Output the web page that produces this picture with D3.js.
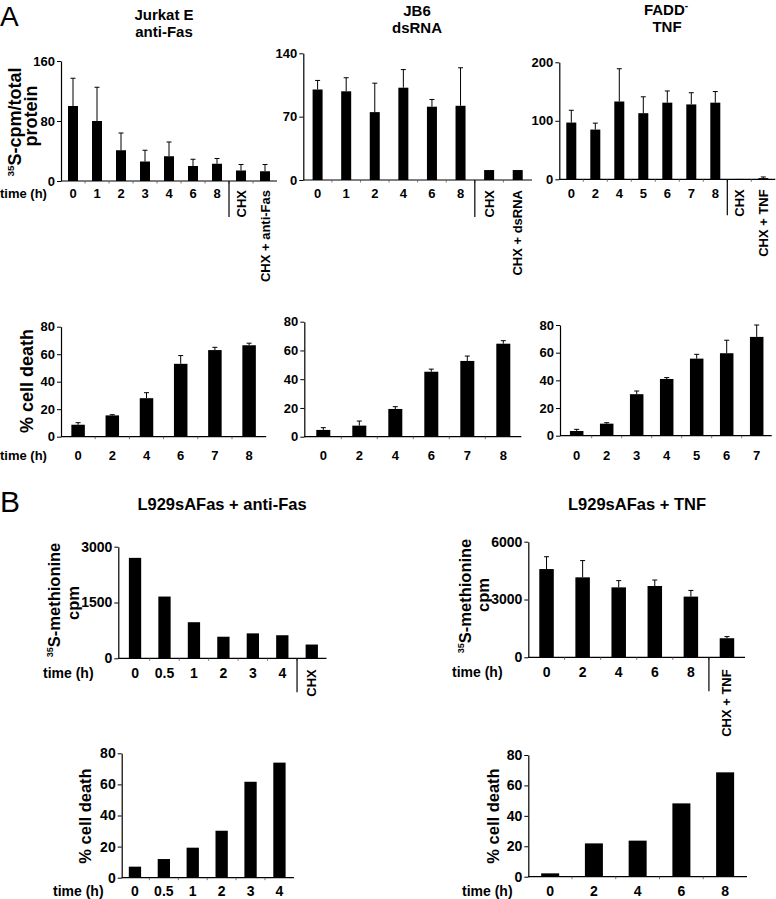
<!DOCTYPE html>
<html>
<head>
<meta charset="utf-8">
<script src="https://cdn.jsdelivr.net/npm/d3@7/dist/d3.min.js"></script>
<style>
  html, body { margin: 0; padding: 0; background: #fff; }
  svg { display: block; font-family: "Liberation Sans", Arial, sans-serif; font-weight: bold; }
</style>
</head>
<body>
<svg id="chart" width="776" height="899"></svg>
<script>
// ---------- DATA ----------
// Panel A, top row: 35S incorporation
const jurkatCats = ["0","1","2","3","4","6","8","CHX","CHX + anti-Fas"];
const jurkatSynth = [100, 80, 41, 26, 33, 20, 23, 14, 13];
const jurkatSynthErr = [37, 45, 23, 15, 19, 9, 7, 8, 9];

const jb6Cats = ["0","1","2","4","6","8","CHX","CHX + dsRNA"];
const jb6Synth = [100, 98, 75, 102, 81, 82, 11, 11];
const jb6SynthErr = [10, 15, 32, 20, 8, 42, 0, 0];

const faddCats = ["0","2","4","5","6","7","8","CHX","CHX + TNF"];
const faddSynth = [97, 85, 133, 113, 131, 128, 131, 0.6, 2];
const faddSynthErr = [21, 11, 56, 28, 20, 20, 19, 0, 2];

// Panel A, second row: % cell death
const jurkatDeathCats = ["0","2","4","6","7","8"];
const jurkatDeath = [8.7, 15.5, 28, 53, 63, 66.5];
const jurkatDeathErr = [1.5, 0.5, 4, 6, 2, 1.5];

const jb6DeathCats = ["0","2","4","6","7","8"];
const jb6Death = [4.7, 7.7, 19.3, 45.2, 52.7, 64.7];
const jb6DeathErr = [1.6, 3.2, 1.6, 1.8, 3.4, 2.1];

const faddDeathCats = ["0","2","3","4","5","6","7"];
const faddDeath = [3.4, 8.7, 30, 41, 55.7, 59.6, 71.4];
const faddDeathErr = [1.2, 0.7, 2.3, 1, 3.1, 9.4, 8.6];

// Panel B
const fasCpmCats = ["0","0.5","1","2","3","4","CHX"];
const fasCpm = [2700, 1660, 970, 580, 670, 620, 370];

const tnfCpmCats = ["0","2","4","6","8","CHX + TNF"];
const tnfCpm = [4580, 4150, 3630, 3700, 3150, 990];
const tnfCpmErr = [640, 870, 350, 310, 320, 85];

const fasDeathCats = ["0","0.5","1","2","3","4"];
const fasDeath = [7.1, 12, 19.3, 30.2, 61.7, 74];

const tnfDeathCats = ["0","2","4","6","8"];
const tnfDeath = [2.2, 21.9, 23.7, 48.2, 68.6];

// Tick values
const ticksJurkat = [0, 80, 160];
const ticksJb6 = [0, 70, 140];
const ticksFadd = [0, 100, 200];
const ticksDeath = [0, 20, 40, 60, 80];
const ticksFasCpm = [0, 1500, 3000];
const ticksTnfCpm = [0, 3000, 6000];

// ---------- LAYOUT ----------
const svg = d3.select("#chart");

const panels = [
  {cats: jurkatCats, vals: jurkatSynth, errs: jurkatSynthErr, ticks: ticksJurkat, max: 160,
   axisX: 61, x0: 61, x1: 277, y0: 181, yTop: 61, barW: 10, fs: 13, labelY: 198, time: 0, rotTop: 9, sepLen: 36},
  {cats: jb6Cats, vals: jb6Synth, errs: jb6SynthErr, ticks: ticksJb6, max: 140,
   axisX: 303.3, x0: 303.3, x1: 532, y0: 180, yTop: 53.3, barW: 10, fs: 13, labelY: 198, rotTop: 10, sepLen: 37},
  {cats: faddCats, vals: faddSynth, errs: faddSynthErr, ticks: ticksFadd, max: 200,
   axisX: 559.3, x0: 559.3, x1: 775.3, y0: 179.3, yTop: 62.3, barW: 10, fs: 13, labelY: 198, rotTop: 10, sepLen: 36},
  {cats: jurkatDeathCats, vals: jurkatDeath, errs: jurkatDeathErr, ticks: ticksDeath, max: 80,
   axisX: 61, x0: 61, x1: 266.2, y0: 436.7, yTop: 326.7, barW: 13.5, fs: 13, labelY: 460, time: 0},
  {cats: jb6DeathCats, vals: jb6Death, errs: jb6DeathErr, ticks: ticksDeath, max: 80,
   axisX: 304.3, x0: 305.3, x1: 521.3, y0: 436.7, yTop: 321.7, barW: 14, fs: 13, labelY: 460},
  {cats: faddDeathCats, vals: faddDeath, errs: faddDeathErr, ticks: ticksDeath, max: 80,
   axisX: 560, x0: 561.7, x1: 771.7, y0: 435.7, yTop: 325, barW: 13.5, fs: 13, labelY: 460},
  {cats: fasCpmCats, vals: fasCpm, ticks: ticksFasCpm, max: 3000,
   axisX: 118.3, x0: 120.3, x1: 326.5, y0: 658.3, yTop: 546.7, barW: 12.3, fs: 14, labelY: 678, time: 43, rotTop: 11, sepLen: 34},
  {cats: tnfCpmCats, vals: tnfCpm, errs: tnfCpmErr, ticks: ticksTnfCpm, max: 6000,
   axisX: 528.3, x0: 528.5, x1: 745, y0: 657.3, yTop: 541.7, barW: 14.5, fs: 14, labelY: 677, time: 452, rotTop: 12, sepLen: 34},
  {cats: fasDeathCats, vals: fasDeath, ticks: ticksDeath, max: 80,
   axisX: 121.7, x0: 120.5, x1: 293.9, y0: 877.7, yTop: 753.3, barW: 12.3, fs: 14, labelY: 896, time: 53},
  {cats: tnfDeathCats, vals: tnfDeath, ticks: ticksDeath, max: 80,
   axisX: 528.3, x0: 528.3, x1: 747, y0: 876.7, yTop: 755, barW: 18, fs: 14, labelY: 896, time: 462}
];

function isNum(c) { return !isNaN(+c); }

function drawPanel(p) {
  const g = svg.append("g");
  const n = p.cats.length;
  const step = (p.x1 - p.x0) / n;
  const pad = 1 - p.barW / step;
  const x = d3.scaleBand().domain(p.cats).range([p.x0, p.x1]).paddingInner(pad).paddingOuter(pad / 2);
  const y = d3.scaleLinear().domain([0, p.max]).range([p.y0, p.yTop]);
  const cx = c => x(c) + x.bandwidth() / 2;

  // bars
  g.selectAll("rect.bar").data(p.vals).join("rect")
    .attr("class", "bar")
    .attr("x", (d, i) => x(p.cats[i]))
    .attr("width", x.bandwidth())
    .attr("y", d => y(d))
    .attr("height", d => p.y0 - y(d))
    .attr("fill", "#000");

  // error bars
  if (p.errs) {
    p.vals.forEach((v, i) => {
      const e = p.errs[i];
      if (!e) return;
      const c = cx(p.cats[i]);
      g.append("line").attr("x1", c).attr("x2", c).attr("y1", y(v)).attr("y2", y(v + e))
        .attr("stroke", "#000").attr("stroke-width", 1);
      g.append("line").attr("x1", c - 2.5).attr("x2", c + 2.5).attr("y1", y(v + e)).attr("y2", y(v + e))
        .attr("stroke", "#000").attr("stroke-width", 1);
    });
  }

  // y axis
  const ya = g.append("g").attr("transform", `translate(${p.axisX},0)`)
    .call(d3.axisLeft(y).tickValues(p.ticks).tickSize(4).tickSizeOuter(0).tickPadding(2).tickFormat(d3.format("d")));
  ya.attr("font-family", null).attr("font-size", null);
  ya.select(".domain").attr("stroke", "#000").attr("stroke-width", 1.2);
  ya.selectAll(".tick line").attr("stroke", "#000");
  ya.selectAll(".tick text").attr("font-size", p.fs).attr("font-weight", "bold").attr("fill", "#000");

  // x axis line
  g.append("line").attr("x1", p.axisX).attr("x2", p.x1).attr("y1", p.y0).attr("y2", p.y0)
    .attr("stroke", "#000").attr("stroke-width", 1.2);
  // small ticks between categories
  p.cats.slice(1).forEach(c => {
    const bx = x(c) - x.step() * x.paddingInner() / 2;
    g.append("line").attr("x1", bx).attr("x2", bx).attr("y1", p.y0).attr("y2", p.y0 + 2.5)
      .attr("stroke", "#555").attr("stroke-width", 0.8);
  });

  // category labels
  let sepDone = false;
  p.cats.forEach(c => {
    if (isNum(c)) {
      g.append("text").attr("x", cx(c)).attr("y", p.labelY).attr("text-anchor", "middle")
        .attr("font-size", p.fs).text(c);
    } else {
      if (!sepDone) {
        const bx = x(c) - x.step() * x.paddingInner() / 2;
        g.append("line").attr("x1", bx).attr("x2", bx).attr("y1", p.y0).attr("y2", p.y0 + p.sepLen)
          .attr("stroke", "#000").attr("stroke-width", 1.2);
        sepDone = true;
      }
      g.append("text").attr("transform", `translate(${cx(c) + 4.5},${p.y0 + p.rotTop}) rotate(-90)`)
        .attr("text-anchor", "end").attr("font-size", 13).text(c);
    }
  });

  if (p.time !== undefined) {
    g.append("text").attr("x", p.time).attr("y", p.labelY).attr("font-size", p.fs).text("time (h)");
  }
}

panels.forEach(drawPanel);

// ---------- TITLES & AXIS LABELS ----------
function txt(x, y, s, size, anchor, weight) {
  return svg.append("text").attr("x", x).attr("y", y).attr("font-size", size)
    .attr("text-anchor", anchor || "middle").attr("font-weight", weight || "bold").text(s);
}

txt(0, 26, "A", 28, "start", "normal");
txt(0, 512, "B", 30, "start", "normal");

txt(164, 20, "Jurkat E", 15);
txt(164, 37, "anti-Fas", 15);
txt(417, 16, "JB6", 15);
txt(417, 33, "dsRNA", 15);
const fadd = txt(666, 15, "FADD", 15);
fadd.append("tspan").attr("font-size", 10).attr("dy", -6).text("-");
txt(667, 32, "TNF", 15);

txt(222, 510, "L929sAFas + anti-Fas", 16.5);
txt(637, 510, "L929sAFas + TNF", 16.5);

function rotLabel(x, y, parts, size) {
  const t = svg.append("text").attr("transform", `translate(${x},${y}) rotate(-90)`)
    .attr("text-anchor", "middle").attr("font-size", size);
  parts.forEach(pt => {
    const ts = t.append("tspan").text(pt.s);
    if (pt.sup) ts.attr("font-size", size * 0.55).attr("dy", -size * 0.4);
    if (pt.down) ts.attr("dy", size * 0.4);
  });
  return t;
}

rotLabel(21, 122, [{s: "35", sup: true}, {s: "S-cpm/total", down: true}], 18);
rotLabel(37, 116, [{s: "protein"}], 18);
rotLabel(33, 381, [{s: "% cell death"}], 18);

rotLabel(60, 600, [{s: "35", sup: true}, {s: "S-methionine", down: true}], 16.5);
rotLabel(79, 603, [{s: "cpm"}], 16.5);
rotLabel(91, 816, [{s: "% cell death"}], 16.5);

rotLabel(471, 596, [{s: "35", sup: true}, {s: "S-methionine", down: true}], 16.5);
rotLabel(489, 595, [{s: "cpm"}], 16.5);
rotLabel(499, 816, [{s: "% cell death"}], 16.5);
</script>
</body>
</html>
